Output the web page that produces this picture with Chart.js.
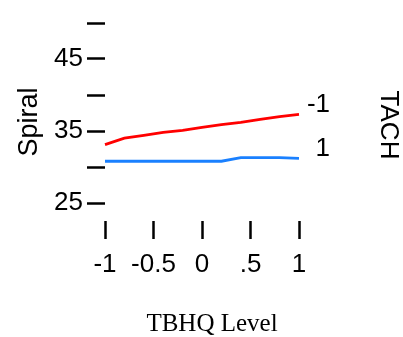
<!DOCTYPE html>
<html>
<head>
<meta charset="utf-8">
<script src="https://cdn.jsdelivr.net/npm/chart.js@4/dist/chart.umd.min.js"></script>
<style>
  html, body { margin: 0; padding: 0; background: #ffffff; }
  #wrap { width: 403px; height: 337px; }
</style>
</head>
<body>
<div id="wrap"><canvas id="chart" width="403" height="337"></canvas></div>
<script>
// TBHQ level (x) and predicted Spiral for each TACH level
const tbhqLevels = [-1, -0.8, -0.6, -0.4, -0.2, 0, 0.2, 0.4, 0.6, 0.8, 1];
const spiralTachMinus = [33.1, 34.0, 34.4, 34.8, 35.1, 35.5, 35.9, 36.2, 36.6, 37.0, 37.3];
const spiralTachPlus = [30.8, 30.8, 30.8, 30.8, 30.8, 30.8, 30.8, 31.3, 31.3, 31.3, 31.2];
const seriesNames = ['-1', '1'];
const seriesColors = ['#ff0000', '#1a80ff'];

const yTickValues = [25, 30, 35, 40, 45, 50];
const yTickLabels = ['25', '', '35', '', '45', ''];
const xTickValues = [-1, -0.5, 0, 0.5, 1];
const xTickLabels = ['-1', '-0.5', '0', '.5', '1'];

const sans = '"Liberation Sans", Arial, Helvetica, sans-serif';
const serif = '"Liberation Serif", "Times New Roman", serif';

// texts around the plot: axis titles and the TACH key at the line ends
const sideText = {
    id: 'sideText',
    afterDraw(chart) {
        const c = chart.ctx;
        const area = chart.chartArea;
        const yScale = chart.scales.y;
        c.save();
        c.fillStyle = '#000';
        c.textBaseline = 'middle';

        // y title
        c.font = '27px ' + sans;
        c.textAlign = 'center';
        c.save();
        c.translate(30, (area.top + area.bottom) / 2);
        c.rotate(-Math.PI / 2);
        c.fillText('Spiral', 0, 0);
        c.restore();

        // key title
        c.font = '26px ' + sans;
        c.save();
        c.translate(388, 125);
        c.rotate(Math.PI / 2);
        c.fillText('TACH', 0, 0);
        c.restore();

        // line end labels
        c.textAlign = 'right';
        chart.data.datasets.forEach((ds) => {
            const last = ds.data[ds.data.length - 1];
            c.fillText(ds.label, 330, yScale.getPixelForValue(last.y) - 10);
        });

        // x title
        c.font = '25px ' + serif;
        c.textAlign = 'center';
        c.fillText('TBHQ Level', 212, 324);
        c.restore();
    }
};

const toPoints = (vals) => tbhqLevels.map((x, i) => ({ x: x, y: vals[i] }));

new Chart(document.getElementById('chart'), {
    type: 'line',
    data: {
        datasets: [
            { label: seriesNames[0], data: toPoints(spiralTachMinus), borderColor: seriesColors[0] },
            { label: seriesNames[1], data: toPoints(spiralTachPlus), borderColor: seriesColors[1] }
        ]
    },
    options: {
        responsive: false,
        animation: false,
        devicePixelRatio: 1,
        layout: { padding: { top: 23, right: 104, bottom: 0, left: 0 } },
        elements: {
            line: { borderWidth: 2.8, tension: 0, fill: false },
            point: { radius: 0 }
        },
        datasets: { line: { clip: false } },
        plugins: {
            legend: { display: false },
            tooltip: { enabled: false }
        },
        scales: {
            x: {
                type: 'linear',
                min: -1,
                max: 1,
                afterBuildTicks: (s) => { s.ticks = xTickValues.map(v => ({ value: v })); },
                afterFit: (s) => { s.height = 116; },
                border: { display: false },
                grid: { drawOnChartArea: false, drawTicks: true, tickLength: 18, tickWidth: 2.5, tickColor: '#000' },
                ticks: {
                    color: '#000',
                    font: { family: sans, size: 26 },
                    padding: 10,
                    maxRotation: 0,
                    autoSkip: false,
                    callback: (v) => xTickLabels[xTickValues.indexOf(v)]
                }
            },
            y: {
                type: 'linear',
                min: 22.5,
                max: 50,
                afterBuildTicks: (s) => { s.ticks = yTickValues.map(v => ({ value: v })); },
                afterFit: (s) => { s.width = 105; s.paddingTop = 0; s.paddingBottom = 0; },
                border: { display: false },
                grid: { drawOnChartArea: false, drawTicks: true, tickLength: 18, tickWidth: 2.5, tickColor: '#000' },
                ticks: {
                    color: '#000',
                    font: { family: sans, size: 26 },
                    padding: 4,
                    autoSkip: false,
                    callback: (v) => yTickLabels[yTickValues.indexOf(v)]
                }
            }
        }
    },
    plugins: [sideText]
});
</script>
</body>
</html>
